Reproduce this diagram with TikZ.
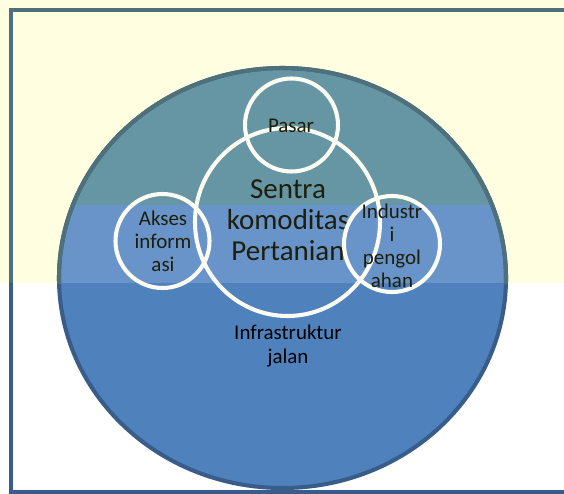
\documentclass[tikz,border=0pt]{standalone}
\usepackage{fontspec}
\setmainfont{Carlito}
\definecolor{kreamBg}{RGB}{255,254,224}
\definecolor{biruDasar}{RGB}{79,129,189}
\definecolor{biruGaris}{RGB}{56,93,138}
\definecolor{biruTeal}{RGB}{102,149,163}
\definecolor{biruMuda}{RGB}{104,148,202}
\definecolor{garisTint}{RGB}{78,112,122}
\definecolor{cincin}{RGB}{252,252,242}
\definecolor{teks}{RGB}{30,30,10}
\usetikzlibrary{positioning}

\begin{document}
\begin{tikzpicture}[x=0.025cm, y=-0.025cm,
    ring/.style={draw=cincin, line width=2.9pt},
    kecil/.style={font=\fontsize{14.9}{16.4}\selectfont, align=center, text=teks, inner sep=0pt},
    besar/.style={font=\fontsize{20.6}{22}\selectfont, align=center, text=teks, inner sep=0pt}]
  \useasboundingbox (0,0) rectangle (564,493);
  % background
  \fill[white] (0,0) rectangle (564,493);
  \fill[kreamBg] (0,0) rectangle (564,283);
  % frame
  \draw[biruGaris, line width=2.9pt] (566,10) -- (11,10) -- (11,492) -- (566,492);
  % outer circle: infrastruktur jalan
  \fill[biruDasar] (282.5,278) ellipse [x radius=223.5, y radius=210];
  \begin{scope}
    \clip (282.5,278) ellipse [x radius=223.5, y radius=210];
    \fill[biruMuda] (0,205) rectangle (564,283);
    \fill[biruTeal] (0,0) rectangle (564,205);
  \end{scope}
  \draw[biruGaris, line width=2.9pt] (282.5,278) ellipse [x radius=223.5, y radius=210];
  \begin{scope}
    \clip (0,0) rectangle (564,283);
    \draw[garisTint, line width=2.9pt] (282.5,278) ellipse [x radius=223.5, y radius=210];
    \draw[garisTint, line width=2.9pt] (566,10) -- (11,10) -- (11,283);
  \end{scope}
  % sentra and pasar rings under the labels
  \draw[ring] (287.5,222) ellipse [x radius=92.5, y radius=94];
  \draw[ring] (291.5,125) circle [radius=46.5];
  % labels
  \node[besar] (sentra) at (288,220) {Sentra\\komoditas\\Pertanian};
  \node[kecil] (pasar) at (291,126) {Pasar};
  \node[kecil] (akses) at (163,241) {Akses\\inform\\asi};
  \node[kecil, text=black] (jalan) at (288,346) {Infrastruktur\\jalan};
  % side rings over the centre label
  \draw[ring] (162.5,241) circle [radius=47];
  \draw[ring] (392,244) circle [radius=48];
  \node[kecil] (industri) at (392,246) {Industr\\i\\pengol\\ahan};
\end{tikzpicture}
\end{document}
